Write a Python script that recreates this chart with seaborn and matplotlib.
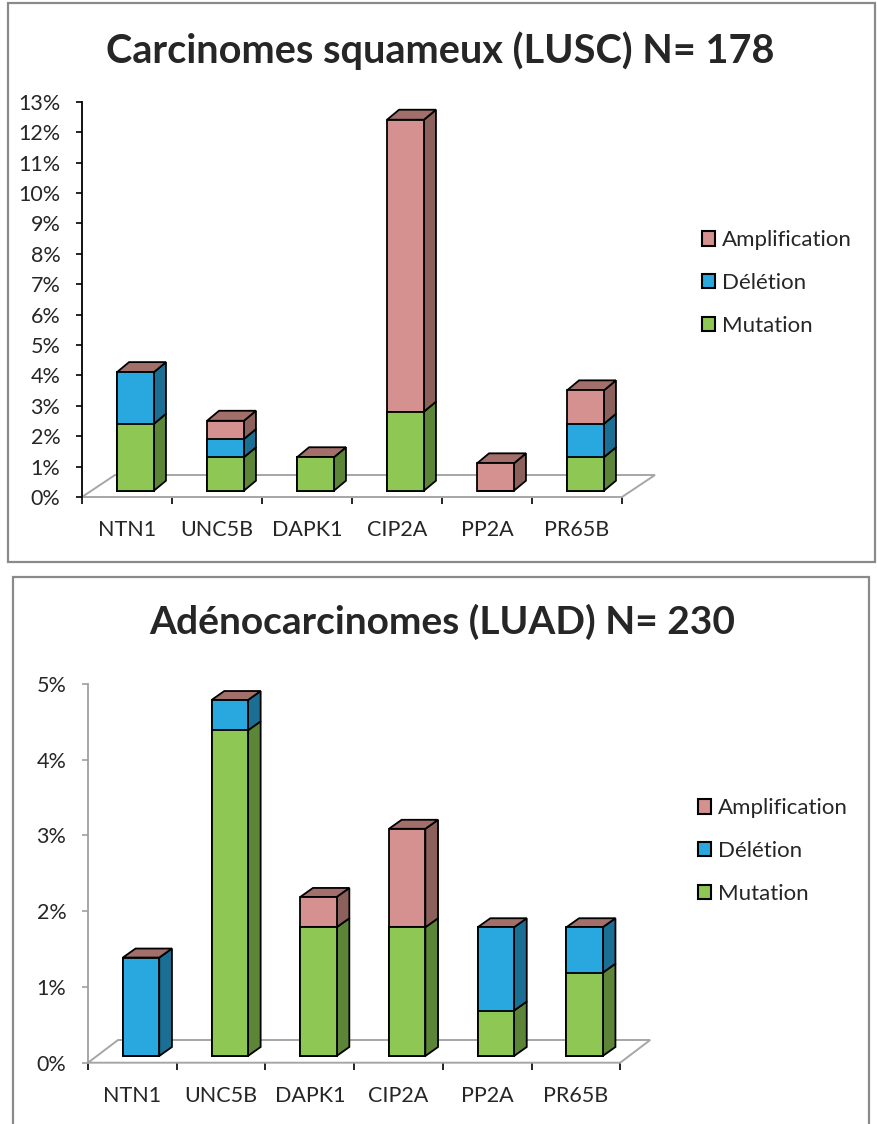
import numpy as np
import pandas as pd
import matplotlib
matplotlib.use("Agg")
import matplotlib.pyplot as plt
import matplotlib.transforms as mtransforms
from matplotlib.patches import Polygon, Rectangle, Patch
import seaborn as sns

## Data (percent of patients)
genes = ["NTN1", "UNC5B", "DAPK1", "CIP2A", "PP2A", "PR65B"]
series = ["Amplification", "Délétion", "Mutation"]

lusc_mut = [2.2, 1.1, 1.1, 2.6, 0.0, 1.1]
lusc_del = [1.7, 0.6, 0.0, 0.0, 0.0, 1.1]
lusc_amp = [0.0, 0.6, 0.0, 9.6, 0.9, 1.1]

luad_mut = [0.0, 4.3, 1.7, 1.7, 0.6, 1.1]
luad_del = [1.3, 0.4, 0.0, 0.0, 1.1, 0.6]
luad_amp = [0.0, 0.0, 0.4, 1.3, 0.0, 0.0]

lusc_title = "Carcinomes squameux (LUSC) N= 178"
luad_title = "Adénocarcinomes (LUAD) N= 230"

# colours: front faces, side faces, top cap
front = {"Amplification": "#d4918f", "Délétion": "#29a8df", "Mutation": "#8fc754"}
side = {"Amplification": "#8c605b", "Délétion": "#1b6f95", "Mutation": "#5c8538"}
cap = "#a26f6a"

W, H = 877, 1124
sns.set_style("white")
plt.rcParams["font.family"] = ["Lato", "DejaVu Sans"]

fig = plt.figure(figsize=(W / 100, H / 100), dpi=100)


def px_axes(left, bottom, right, top):
    # axes box given in pixel coords of the picture (y down)
    return fig.add_axes([left / W, 1 - bottom / H, (right - left) / W, (bottom - top) / H])


def draw_panel(ax, mut, dele, amp, ymax, shift, depth, floor, axis_col):
    df = pd.DataFrame({"gene": genes, "mut": mut, "del": dele, "amp": amp})
    df["md"] = df["mut"] + df["del"]
    df["total"] = df["md"] + df["amp"]

    # stacked look: draw cumulative heights from the top series down
    for col, key in [("total", "Amplification"), ("md", "Délétion"), ("mut", "Mutation")]:
        sns.barplot(data=df, x="gene", y=col, color=front[key], saturation=1,
                    width=0.41, edgecolor="black", linewidth=1.3, errorbar=None,
                    ax=ax, zorder=3)

    xmin, xmax = -0.5, 6.0
    ax.set_xlim(xmin, xmax)
    ax.set_ylim(0, ymax)
    bb = ax.get_position()
    ppx = bb.width * W / (xmax - xmin)
    ppy = bb.height * H / ymax

    # bars sit a bit inside the 3d floor
    tr = ax.transData + mtransforms.ScaledTranslation(shift[0] / 100, shift[1] / 100,
                                                      fig.dpi_scale_trans)
    for p in ax.patches:
        p.set_transform(tr)
        p.set_clip_on(False)

    ddx, ddy = depth[0] / ppx, depth[1] / ppy
    hw = 0.41 / 2
    for i, row in df.iterrows():
        lo = 0.0
        for key, col in [("Mutation", "mut"), ("Délétion", "del"), ("Amplification", "amp")]:
            hi = lo + row[col]
            if row[col] > 0:
                xr = i + hw
                ax.add_patch(Polygon([(xr, lo), (xr + ddx, lo + ddy), (xr + ddx, hi + ddy), (xr, hi)],
                                     closed=True, facecolor=side[key], edgecolor="black",
                                     linewidth=1.3, transform=tr, zorder=2, clip_on=False))
            lo = hi
        top = row["total"]
        ax.add_patch(Polygon([(i - hw, top), (i + hw, top), (i + hw + ddx, top + ddy), (i - hw + ddx, top + ddy)],
                             closed=True, facecolor=cap, edgecolor="black", linewidth=1.3,
                             transform=tr, zorder=2, clip_on=False))

    # floor
    fdx, fdy = floor[0] / ppx, floor[1] / ppy
    ax.add_patch(Polygon([(-0.5, 0), (5.5, 0), (5.5 + fdx, fdy), (-0.5 + fdx, fdy)],
                         closed=True, facecolor="white", edgecolor="#a6a6a6",
                         linewidth=1.4, zorder=1, clip_on=False))

    for s in ["top", "right", "bottom"]:
        ax.spines[s].set_visible(False)
    ax.spines["left"].set_color(axis_col)
    ax.spines["left"].set_linewidth(1.3)

    ax.set_yticks(range(0, ymax + 1))
    ax.set_yticklabels([f"{v}%" for v in range(0, ymax + 1)])
    ax.tick_params(axis="y", direction="out", length=4.5, width=1.2, color=axis_col,
                   labelsize=15.5, pad=11, left=True)
    ax.set_xticks(range(len(genes)))
    ax.set_xticklabels(genes)
    ax.set_xticks(np.arange(-0.5, 6.0, 1.0), minor=True)
    ax.tick_params(axis="x", which="major", length=0, labelsize=15.5, pad=16.5)
    ax.tick_params(axis="x", which="minor", direction="out", length=5, width=1.2,
                   color="black", bottom=True)
    ax.set_xlabel("")
    ax.set_ylabel("")
    ax.set_facecolor("none")


ax1 = px_axes(82, 497, 82 + 6.5 * 90, 101.7)
draw_panel(ax1, lusc_mut, lusc_del, lusc_amp, 13, shift=(8.5, 6.3), depth=(12, 10),
           floor=(33, 22), axis_col="black")

ax2 = px_axes(88, 1062.7, 88 + 6.5 * 88.7, 684)
draw_panel(ax2, luad_mut, luad_del, luad_amp, 5, shift=(8.7, 6.7), depth=(12.7, 9),
           floor=(30, 22.7), axis_col="#a0a0a0")

# titles
fig.text(440.5 / W, 1 - 63.3 / H, lusc_title, ha="center", va="baseline",
         fontsize=28.5, fontweight="bold")
fig.text(442 / W, 1 - 634 / H, luad_title, ha="center", va="baseline",
         fontsize=28, fontweight="bold")

# legends
handles = [Patch(facecolor=front[s], edgecolor="black", linewidth=1.5, label=s) for s in series]
for x, y in [(702, 283), (698, 851)]:
    fig.legend(handles=handles, loc="center left", bbox_to_anchor=(x / W, 1 - y / H),
               frameon=False, fontsize=16, handlelength=0.6, handleheight=0.6,
               handletextpad=0.3, labelspacing=1.02, borderpad=0, borderaxespad=0)

# panel borders
for (l, t, r, b) in [(8, 3, 875, 562), (13, 577, 869, 1130)]:
    fig.add_artist(Rectangle((l / W, 1 - b / H), (r - l) / W, (b - t) / H,
                             transform=fig.transFigure, facecolor="none",
                             edgecolor="#8a8a8a", linewidth=1.6, zorder=0))

fig.savefig("out.png", dpi=100)
